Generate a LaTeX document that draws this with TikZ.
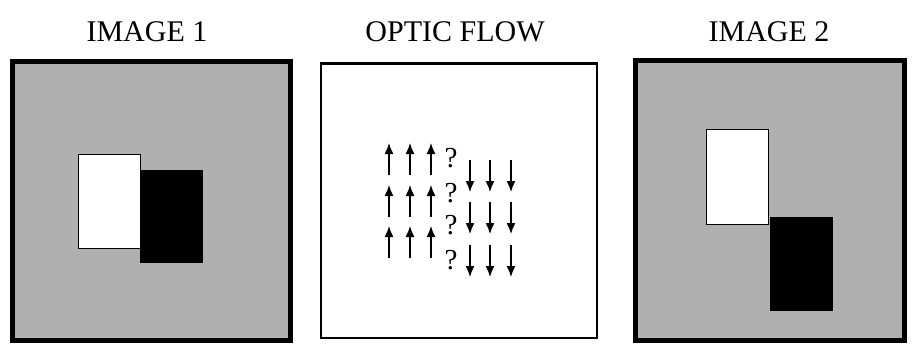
\documentclass[tikz,border=0pt]{standalone}
\usepackage{fontspec}
\setmainfont{Liberation Serif}
\usetikzlibrary{arrows.meta}
\definecolor{panelgray}{gray}{0.69}
\tikzset{
  title/.style={font=\fontsize{30}{30}\selectfont, anchor=base},
  qmark/.style={font=\fontsize{29}{29}\selectfont, inner sep=0pt},
  frame/.style={draw=black, line width=5pt, fill=panelgray},
  lightbox/.style={draw=black, line width=0.8pt, fill=white},
  darkbox/.style={fill=black},
  flowarrow/.style={-{Latex[length=11pt,width=9pt]}, line width=1.4pt},
}

\begin{document}
\begin{tikzpicture}[x=1pt, y=-1pt]
        \useasboundingbox (0,0) rectangle (922,345);

        % Titles
        \node[title] (title1) at (147,42) {IMAGE 1};
        \node[title] (title2) at (455,42) {OPTIC FLOW};
        \node[title] (title3) at (769,42) {IMAGE 2};

        % Image 1
        \draw[frame] (12.5,61.5) rectangle (290.5,340.5);
        \fill[darkbox] (140,170) rectangle (203,263);
        \draw[lightbox] (78,154) rectangle (140,248);

        % Optic flow
        \draw[line width=2.5pt] (321,63.5) rectangle (597,338);
        \foreach \x in {389,410,431}
          \foreach \y in {175,217,258}
            \draw[flowarrow] (\x,\y) -- (\x,\y-32);
        \foreach \y [count=\i] in {158,193,225,260}
          \node[qmark] (q\i) at (451,\y) {?};
        \foreach \x in {470,490,511}
          \foreach \y in {160,202,245}
            \draw[flowarrow] (\x,\y) -- (\x,\y+32);

        % Image 2
        \draw[frame] (635.5,60.5) rectangle (904.5,340.5);
        \draw[lightbox] (706,129) rectangle (768,224);
        \fill[darkbox] (770,217) rectangle (833,311);
\end{tikzpicture}
\end{document}
